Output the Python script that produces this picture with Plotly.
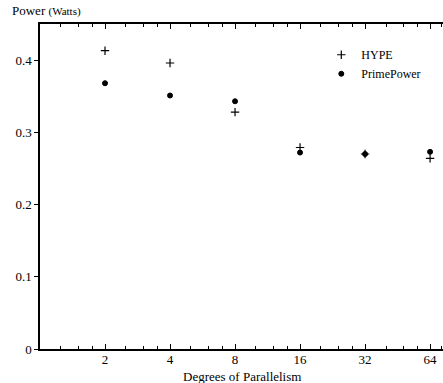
import plotly.graph_objects as go

parallelism = [2, 4, 8, 16, 32, 64]
hype_watts = [0.413, 0.396, 0.328, 0.279, 0.270, 0.264]
primepower_watts = [0.368, 0.351, 0.343, 0.272, 0.270, 0.273]
x_tick_labels = ["2", "4", "8", "16", "32", "64"]
y_ticks = [0, 0.1, 0.2, 0.3, 0.4]
y_tick_labels = ["0", "0.1", "0.2", "0.3", "0.4"]
x_minor = [1.25, 1.5, 1.75, 2.5, 3, 3.5, 5, 6, 7, 10, 12, 14, 20, 24, 28, 40, 48, 56, 72]

FONT = "Liberation Serif, Times New Roman, serif"

fig = go.Figure()
fig.add_trace(go.Scatter(
    x=parallelism, y=hype_watts, mode="markers", name="HYPE",
    marker=dict(symbol="cross-thin", size=6, color="black",
                line=dict(width=1.2, color="black")),
))
fig.add_trace(go.Scatter(
    x=parallelism, y=primepower_watts, mode="markers", name="PrimePower",
    marker=dict(symbol="circle", size=5, color="black",
                line=dict(width=1, color="black")),
))

fig.update_layout(
    width=443, height=383,
    margin=dict(l=40, r=0, t=24, b=34),
    paper_bgcolor="white", plot_bgcolor="white",
    font=dict(family=FONT, size=13, color="black"),
    showlegend=True,
    legend=dict(x=0.698, y=0.95, xanchor="left", yanchor="top",
                bgcolor="rgba(0,0,0,0)", font=dict(size=12, family=FONT),
                itemwidth=30, tracegroupgap=0),
    xaxis=dict(
        type="log", range=[0, 1.866],
        tickvals=parallelism, ticktext=x_tick_labels,
        ticks="inside", ticklen=5, tickwidth=1, tickcolor="black",
        ticklabelstandoff=-3,
        showline=True, linecolor="black", linewidth=2, mirror="ticks",
        showgrid=False, zeroline=False,
        minor=dict(tickvals=x_minor, ticks="inside", ticklen=3,
                   tickcolor="black", tickwidth=1, showgrid=False),
        tickfont=dict(size=13, family=FONT),
    ),
    yaxis=dict(
        range=[0, 0.45], tickvals=y_ticks, ticktext=y_tick_labels,
        ticks="outside", ticklen=4, tickwidth=1, tickcolor="black",
        showline=True, linecolor="black", linewidth=1.5,
        showgrid=False, zeroline=False,
        tickfont=dict(size=13, family=FONT),
    ),
    annotations=[
        dict(text="Power <span style='font-size:11px'>(Watts)</span>",
             xref="paper", yref="paper", x=-0.075, y=1.0, yshift=4,
             xanchor="left", yanchor="bottom", showarrow=False,
             font=dict(size=13, family=FONT)),
        dict(text="Degrees of Parallelism",
             xref="paper", yref="paper", x=0.5, y=0, yshift=-18,
             xanchor="center", yanchor="top", showarrow=False,
             font=dict(size=13, family=FONT)),
    ],
)

fig.write_html("out.html", config={"displayModeBar": False},
               post_script="document.body.style.margin='0';document.body.style.overflow='hidden';")
